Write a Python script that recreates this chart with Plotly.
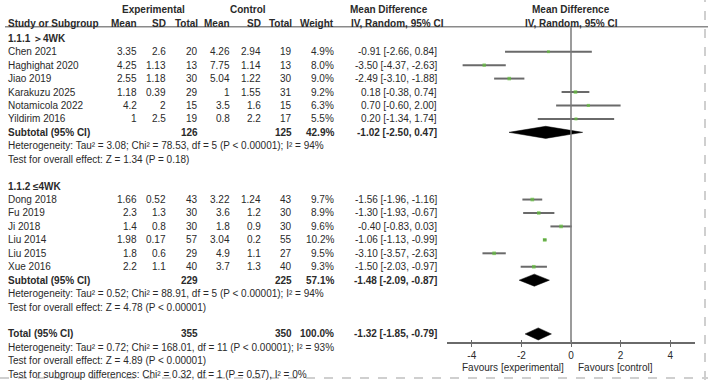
import plotly.graph_objects as go

# ---------------- data ----------------
group1_label = "1.1.1 ＞4WK"
studies1 = ["Chen 2021", "Haghighat 2020", "Jiao 2019", "Karakuzu 2025", "Notamicola 2022", "Yildirim 2016"]
e_mean1 = ["3.35", "4.25", "2.55", "1.18", "4.2", "1"]
e_sd1 = ["2.6", "1.13", "1.18", "0.39", "2", "2.5"]
e_n1 = [20, 13, 30, 29, 15, 19]
c_mean1 = ["4.26", "7.75", "5.04", "1", "3.5", "0.8"]
c_sd1 = ["2.94", "1.14", "1.22", "1.55", "1.6", "2.2"]
c_n1 = [19, 13, 30, 31, 15, 17]
w1 = [4.9, 8.0, 9.0, 9.2, 6.3, 5.5]
md1 = [-0.91, -3.50, -2.49, 0.18, 0.70, 0.20]
lo1 = [-2.66, -4.37, -3.10, -0.38, -0.60, -1.34]
hi1 = [0.84, -2.63, -1.88, 0.74, 2.00, 1.74]
sub1 = dict(en=126, cn=125, w=42.9, md=-1.02, lo=-2.50, hi=0.47)
het1 = "Heterogeneity: Tau² = 3.08; Chi² = 78.53, df = 5 (P < 0.00001); I² = 94%"
test1 = "Test for overall effect: Z = 1.34 (P = 0.18)"

group2_label = "1.1.2 ≤4WK"
studies2 = ["Dong 2018", "Fu 2019", "Ji 2018", "Liu 2014", "Liu 2015", "Xue 2016"]
e_mean2 = ["1.66", "2.3", "1.4", "1.98", "1.8", "2.2"]
e_sd2 = ["0.52", "1.3", "0.8", "0.17", "0.6", "1.1"]
e_n2 = [43, 30, 30, 57, 29, 40]
c_mean2 = ["3.22", "3.6", "1.8", "3.04", "4.9", "3.7"]
c_sd2 = ["1.24", "1.2", "0.9", "0.2", "1.1", "1.3"]
c_n2 = [43, 30, 30, 55, 27, 40]
w2 = [9.7, 8.9, 9.6, 10.2, 9.5, 9.3]
md2 = [-1.56, -1.30, -0.40, -1.06, -3.10, -1.50]
lo2 = [-1.96, -1.93, -0.83, -1.13, -3.57, -2.03]
hi2 = [-1.16, -0.67, 0.03, -0.99, -2.63, -0.97]
sub2 = dict(en=229, cn=225, w=57.1, md=-1.48, lo=-2.09, hi=-0.87)
het2 = "Heterogeneity: Tau² = 0.52; Chi² = 88.91, df = 5 (P < 0.00001); I² = 94%"
test2 = "Test for overall effect: Z = 4.78 (P < 0.00001)"

total = dict(en=355, cn=350, w=100.0, md=-1.32, lo=-1.85, hi=-0.79)
het_t = "Heterogeneity: Tau² = 0.72; Chi² = 168.01, df = 11 (P < 0.00001); I² = 93%"
test_t = "Test for overall effect: Z = 4.89 (P < 0.00001)"
test_sub = "Test for subgroup differences: Chi² = 0.32, df = 1 (P = 0.57), I² = 0%"

x_ticks = [-4, -2, 0, 2, 4]
x_ticktext = ["-4", "-2", "0", "2", "4"]
x_range = [-5, 5]

# ---------------- layout constants ----------------
W, H = 708, 380
ROW_H = 13.44
ROW0_PX = 51.7 - 2 * ROW_H


def R(px):
    return (px - ROW0_PX) / ROW_H


def PX(x):
    return x / W


FONT = "Liberation Sans, Arial, sans-serif"
FS = 10
TXT = "#2a2a2a"

# column right edges (px)
COL_EM, COL_ESD, COL_EN = 139, 168, 200
COL_CM, COL_CSD, COL_CN = 232, 263, 294
COL_W, COL_MD = 336, 439
COL_NAME = 6

ann = []


def text(x, row, s, anchor="left", bold=False, size=FS, yshift=0):
    ann.append(dict(x=PX(x), y=row, xref="paper", yref="y", text=("<b>%s</b>" % s) if bold else s,
                    showarrow=False, xanchor=anchor, yanchor="middle", yshift=yshift,
                    font=dict(family=FONT, size=size, color=TXT)))


def fmt_md(m, l, h):
    return "%.2f [%.2f, %.2f]" % (m, l, h)


# headers
hr1, hr2 = R(9.3), R(23.3)
text(153, hr1, "Experimental", "center", True)
text(248, hr1, "Control", "center", True)
text(348, hr1, "Mean Difference", "left", True)
text(571, hr1, "Mean Difference", "center", True)
text(COL_NAME, hr2, "Study or Subgroup", "left", True)
text(COL_EM, hr2, "Mean", "right", True)
text(COL_ESD, hr2, "SD", "right", True)
text(COL_EN, hr2, "Total", "right", True)
text(COL_CM, hr2, "Mean", "right", True)
text(COL_CSD, hr2, "SD", "right", True)
text(COL_CN, hr2, "Total", "right", True)
text(COL_W, hr2, "Weight", "right", True)
text(349, hr2, "IV, Random, 95% CI", "left", True)
text(571, hr2, "IV, Random, 95% CI", "center", True)


def study_rows(start, names, em, esd, en, cm, csd, cn, w, md, lo, hi):
    rows = []
    for i, nm in enumerate(names):
        r = start + i
        rows.append(r)
        text(COL_NAME, r, nm)
        text(COL_EM, r, em[i], "right")
        text(COL_ESD, r, esd[i], "right")
        text(COL_EN, r, str(en[i]), "right")
        text(COL_CM, r, cm[i], "right")
        text(COL_CSD, r, csd[i], "right")
        text(COL_CN, r, str(cn[i]), "right")
        text(COL_W, r, "%.1f%%" % w[i], "right")
        text(COL_MD, r, fmt_md(md[i], lo[i], hi[i]), "right")
    return rows


def summary_row(r, label, s):
    text(COL_NAME, r, label, "left", True)
    text(COL_EN, r, str(s["en"]), "right", True)
    text(COL_CN, r, str(s["cn"]), "right", True)
    text(COL_W, r, "%.1f%%" % s["w"], "right", True)
    text(COL_MD, r, fmt_md(s["md"], s["lo"], s["hi"]), "right", True)


text(COL_NAME, 1, group1_label, "left", True)
rows1 = study_rows(2, studies1, e_mean1, e_sd1, e_n1, c_mean1, c_sd1, c_n1, w1, md1, lo1, hi1)
summary_row(8, "Subtotal (95% CI)", sub1)
text(COL_NAME, 9, het1)
text(COL_NAME, 10, test1)

text(COL_NAME, 12, group2_label, "left", True)
rows2 = study_rows(13, studies2, e_mean2, e_sd2, e_n2, c_mean2, c_sd2, c_n2, w2, md2, lo2, hi2)
summary_row(19, "Subtotal (95% CI)", sub2)
text(COL_NAME, 20, het2)
text(COL_NAME, 21, test2)

summary_row(23, "Total (95% CI)", total)
text(COL_NAME, 24, het_t)
text(COL_NAME, 25, test_t)
text(COL_NAME, 26, test_sub)

# favours labels
fav_row = R(367)
ann.append(dict(x=-0.2, y=fav_row, xref="x", yref="y", text="Favours [experimental]", showarrow=False,
                xanchor="right", yanchor="middle", font=dict(family=FONT, size=FS, color=TXT)))
ann.append(dict(x=0.2, y=fav_row, xref="x", yref="y", text="Favours [control]", showarrow=False,
                xanchor="left", yanchor="middle", font=dict(family=FONT, size=FS, color=TXT)))

# ---------------- traces ----------------
fig = go.Figure()
all_rows = rows1 + rows2
all_md = md1 + md2
all_lo = lo1 + lo2
all_hi = hi1 + hi2
all_w = w1 + w2

cx, cy = [], []
for r, l, h in zip(all_rows, all_lo, all_hi):
    cx += [l, h, None]
    cy += [r, r, None]
fig.add_trace(go.Scatter(x=cx, y=cy, mode="lines", line=dict(color="#6a6a6a", width=2),
                         hoverinfo="skip", showlegend=False))
fig.add_trace(go.Scatter(x=all_md, y=all_rows, mode="markers",
                         marker=dict(symbol="square", color="#62c03a",
                                     size=[2.2 + w * 0.15 for w in all_w], line=dict(width=0)),
                         showlegend=False))

DH = 0.45
for r, s in [(8, sub1), (19, sub2), (23, total)]:
    fig.add_trace(go.Scatter(x=[s["lo"], s["md"], s["hi"], s["md"], s["lo"]],
                             y=[r, r - DH, r, r + DH, r], mode="lines", fill="toself",
                             fillcolor="black", line=dict(color="black", width=0.5),
                             hoverinfo="skip", showlegend=False))

axis_px = 343.3
shapes = [
    # header underline
    dict(type="line", xref="paper", yref="y", x0=PX(5), x1=1, y0=R(26.7), y1=R(26.7),
         line=dict(color="#8a8a8a", width=1.5)),
    # zero line
    dict(type="line", xref="x", yref="y", x0=0, x1=0, y0=R(26.7), y1=R(axis_px),
         line=dict(color="#7a7a7a", width=1.5)),
    # dashed border right
    dict(type="line", xref="paper", yref="paper", x0=PX(705), x1=PX(705), y0=0, y1=1,
         line=dict(color="#cfcfcf", width=2, dash="dash")),
    # dashed border bottom
    dict(type="line", xref="paper", yref="paper", x0=0, x1=1, y0=(H - 378) / H, y1=(H - 378) / H,
         line=dict(color="#cfcfcf", width=2, dash="dash")),
]

pos = (H - axis_px) / H
fig.update_layout(
    width=W, height=H, autosize=False,
    margin=dict(l=0, r=0, t=0, b=0),
    paper_bgcolor="white", plot_bgcolor="rgba(0,0,0,0)",
    showlegend=False,
    annotations=ann, shapes=shapes,
    xaxis=dict(domain=[PX(447), PX(695)], range=x_range, tickvals=x_ticks, ticktext=x_ticktext,
               anchor="free", position=pos, showline=True, linecolor="#6a6a6a", linewidth=1.5,
               ticks="outside", ticklen=3, tickwidth=1.2, tickcolor="#6a6a6a",
               showgrid=False, zeroline=False,
               tickfont=dict(family=FONT, size=FS, color=TXT), fixedrange=True),
    xaxis2=dict(overlaying="x", range=x_range, tickvals=x_ticks, anchor="free", position=pos,
                ticks="inside", ticklen=3, tickwidth=1.2, tickcolor="#6a6a6a",
                showticklabels=False, showline=False, showgrid=False, zeroline=False),
    yaxis=dict(domain=[0, 1], range=[R(H), R(0)], visible=False, showgrid=False, zeroline=False,
               fixedrange=True),
)
fig.add_trace(go.Scatter(x=[None], y=[None], xaxis="x2", yaxis="y", showlegend=False))

fig.write_html("out.html")
